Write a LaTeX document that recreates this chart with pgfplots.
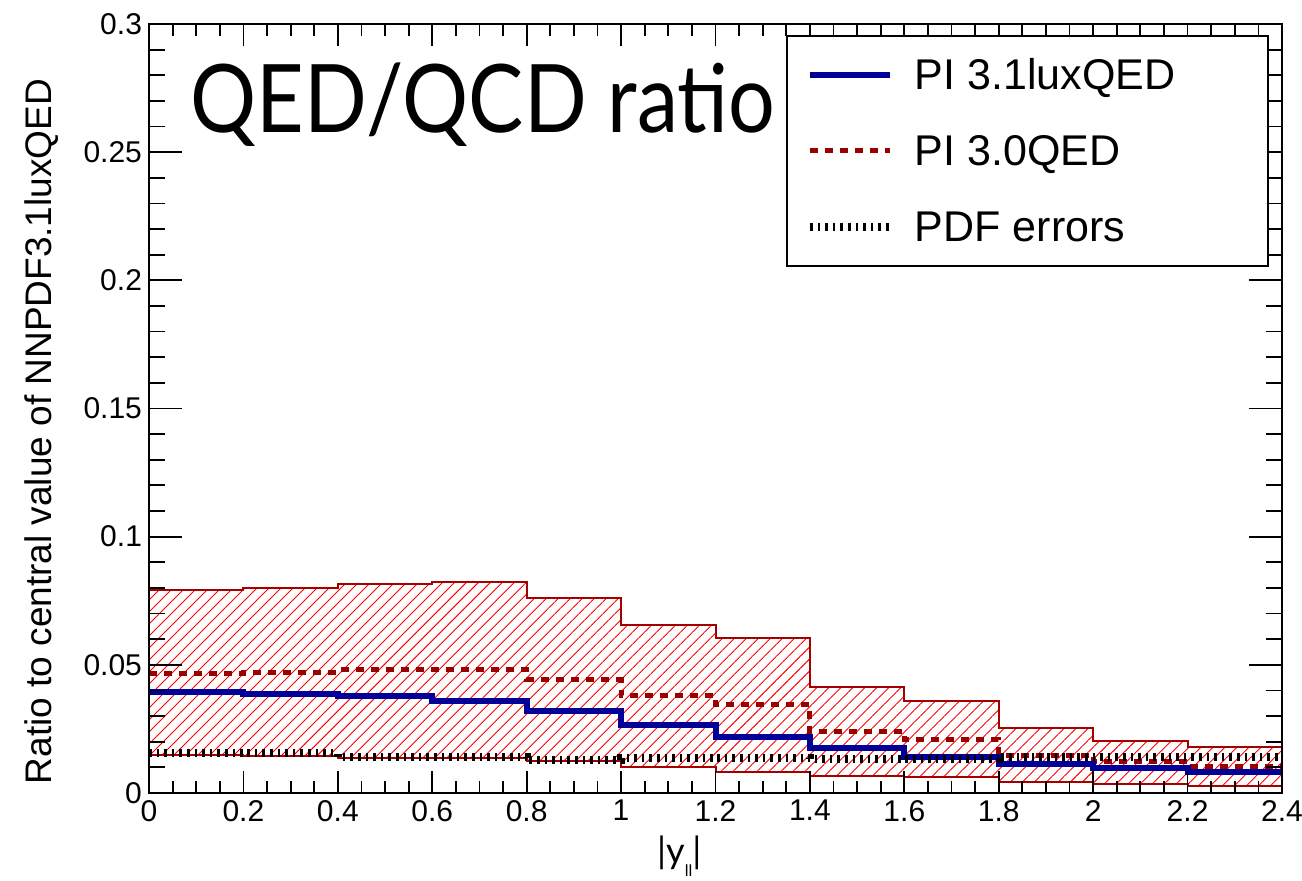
\documentclass[border=0pt]{standalone}
\usepackage{fontspec}
\setmainfont{Liberation Sans}
\newfontfamily\gill{Lato}
\usepackage{graphicx}
\usepackage{pgfplots}
\pgfplotsset{compat=1.18}
\usetikzlibrary{patterns.meta}
\definecolor{rblue}{RGB}{0,0,153}
\definecolor{rdred}{RGB}{153,0,0}
\definecolor{bandedge}{RGB}{165,0,0}
\definecolor{hatch}{RGB}{255,0,0}
\begin{document}
\begin{tikzpicture}
\path[use as bounding box] (0,0) rectangle (651pt,440.5pt);
\pgfplotsset{base/.style={scale only axis, width=566.5pt, height=384.5pt,
  at={(74.5pt,44pt)}, anchor=south west,
  xmin=0, xmax=2.4, ymin=0, ymax=0.3,
  tick align=inside,
  axis line style={line width=1pt},
  every tick/.style={black, line width=0.9pt},
  /pgf/number format/assume math mode=true,
  ticklabel style={font=\fontsize{15}{18}\selectfont}}}
% axis with data and x ticks
\begin{axis}[base,
  xtick={0,0.2,0.4,0.6,0.8,1,1.2,1.4,1.6,1.8,2,2.2,2.4},
  minor x tick num=3,
  ytick=\empty,
  xtick pos=both, xticklabel pos=left,
  major tick length=11pt, minor tick length=6pt,
  xticklabel style={/pgf/number format/fixed,/pgf/number format/precision=1},
  axis on top]
% uncertainty band (upper edge left to right, lower edge right to left)
\addplot[draw=bandedge, line width=1pt, pattern={Lines[angle=45,distance=4.24pt,line width=0.45pt]}, pattern color=hatch, forget plot] coordinates {
 (0,0.0792) (0.2,0.0792) (0.2,0.0798) (0.4,0.0798) (0.4,0.0815) (0.6,0.0815)
 (0.6,0.0822) (0.8,0.0822) (0.8,0.0762) (1.0,0.0762) (1.0,0.0655) (1.2,0.0655)
 (1.2,0.0606) (1.4,0.0606) (1.4,0.0415) (1.6,0.0415) (1.6,0.0359) (1.8,0.0359)
 (1.8,0.0252) (2.0,0.0252) (2.0,0.0203) (2.2,0.0203) (2.2,0.0178) (2.4,0.0178)
 (2.4,0.0029) (2.2,0.0029) (2.2,0.0035) (2.0,0.0035) (2.0,0.0044) (1.8,0.0044)
 (1.8,0.0062) (1.6,0.0062) (1.6,0.0066) (1.4,0.0066) (1.4,0.0083) (1.2,0.0083)
 (1.2,0.0103) (1.0,0.0103) (1.0,0.0124) (0.8,0.0124) (0.8,0.0135) (0.6,0.0135)
 (0.6,0.0138) (0.4,0.0138) (0.4,0.0145) (0.2,0.0145) (0.2,0.0148) (0,0.0148)
 (0,0.0792)};
% PI 3.0QED
\addplot[const plot, rdred, line width=2.5pt, dash pattern=on 4pt off 3.5pt] coordinates {
 (0,0.0467) (0.2,0.0469) (0.4,0.0480) (0.6,0.0480) (0.8,0.0443) (1.0,0.0379)
 (1.2,0.0345) (1.4,0.0241) (1.6,0.0209) (1.8,0.0148) (2.0,0.0122) (2.2,0.0105) (2.4,0.0105)};
% PI 3.1luxQED
\addplot[const plot, rblue, line width=3pt] coordinates {
 (0,0.0393) (0.2,0.0386) (0.4,0.0378) (0.6,0.0360) (0.8,0.0321) (1.0,0.0267)
 (1.2,0.0218) (1.4,0.0174) (1.6,0.0142) (1.8,0.0115) (2.0,0.0096) (2.2,0.0080) (2.4,0.0080)};
% PDF errors
\addplot[const plot, black, line width=4pt, dash pattern=on 1.3pt off 2.5pt] coordinates {
 (0,0.0157) (0.2,0.0155) (0.4,0.0142) (0.6,0.0142) (0.8,0.0129) (1.0,0.0135)
 (1.2,0.0138) (1.4,0.0133) (1.6,0.0131) (1.8,0.0142) (2.0,0.0142) (2.2,0.0142) (2.4,0.0142)};
\node[anchor=base west, inner sep=0pt] at (rel axis cs:0.0362,0.8583)
  {\scalebox{0.96}[1.1]{\gill\fontsize{43}{50}\selectfont QED/QCD ratio}};
\end{axis}
% axis with y ticks, labels and legend
\begin{axis}[base,
  xtick=\empty,
  ytick={0,0.05,0.1,0.15,0.2,0.25,0.3},
  minor y tick num=4,
  ytick pos=both, yticklabel pos=left,
  major tick length=16.5pt, minor tick length=8pt,
  yticklabel style={/pgf/number format/fixed,/pgf/number format/precision=2},
  scaled y ticks=false,
  ylabel={Ratio to central value of NNPDF3.1luxQED},
  ylabel style={font=\fontsize{18.5}{20}\selectfont, at={(axis description cs:-0.110,0.470)}, anchor=north, inner sep=0pt},
  xlabel={|y\raisebox{-0.7ex}{\fontsize{8}{9}\selectfont ll}|},
  xlabel style={font=\gill\fontsize{18}{20}\selectfont, at={(axis description cs:0.468,0)}, anchor=north, yshift=-21.5pt, inner sep=0pt},
  legend cell align=left,
  legend image code/.code={\draw[#1] (0pt,0pt) -- (40pt,0pt); \path (50.5pt,0pt);},
  legend style={at={(rel axis cs:0.5622,0.9857)}, anchor=north west, draw=black, line width=1pt, fill=white,
    inner xsep=9.5pt, inner ysep=11.5pt, row sep=22pt,
    font=\fontsize{21.5}{24}\selectfont,
    nodes={inner sep=0pt, text height=15.5pt, text depth=0.5pt}}]
\addlegendimage{rblue, line width=3pt}
\addlegendentry{\makebox[167pt][l]{PI 3.1luxQED}}
\addlegendimage{rdred, line width=2.5pt, dash pattern=on 4pt off 3.5pt}
\addlegendentry{\makebox[167pt][l]{PI 3.0QED}}
\addlegendimage{black, line width=4pt, dash pattern=on 1.3pt off 2.5pt}
\addlegendentry{\makebox[167pt][l]{PDF errors}}
\end{axis}
\end{tikzpicture}
\end{document}
